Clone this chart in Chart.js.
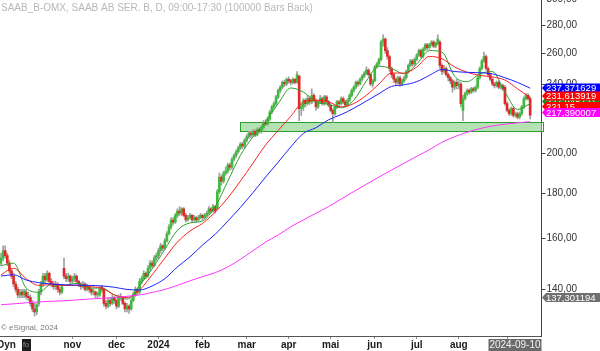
<!DOCTYPE html>
<html>
<head>
<meta charset="utf-8">
<script src="https://cdn.jsdelivr.net/npm/chart.js@4.4.1/dist/chart.umd.min.js"></script>
<style>
  html, body { margin: 0; padding: 0; background: #fff; }
  canvas { display: block; }
</style>
</head>
<body>
<canvas id="saabChart" width="600" height="351"></canvas>
<script>
// daily candles, one per trading day (index 0 = mid Oct 2023, last = 2024-09-10)
const opens = [
  150,152,155,153,150,147,145,142,140,138,
  139,138,139,137.5,137,135,133,132,135,139,
  142,145,143.5,146,143,142,141,142,140,139,
  148,145,144,145,143,144,145,143,142,141,
  142,140,141,140,139,139,138,138,141,140,
  135,134,136,135,137,136,134,137,137,135,
  133,134,133,136,138,140,139,143,144,146,
  145,148,150,149,152,153,155,157,156,159,
  162,165,168,167,170,172,171,173,170,168,
  169,170,168,169,168,169,170,169,170,171,
  173,172,174,173,181,188,186,190,191,194,
  193,197,199,201,203,205,204,207,209,211,
  210,212,210,213,212,214,217,216,219,223,
  226,228,232,236,238,241,240,243,242,241,
  243,241,245,225,226,230,228,231,229,233,
  230,226,229,231,228,232,229,227,224,222,
  226,229,228,231,229,227,230,233,236,238,
  241,240,243,245,247,249,246,240,242,251,
  253,256,268,270,262,258,250,246,243,241,
  244,240,242,244,248,252,255,253,256,259,
  262,258,263,266,264,266,268,265,267,268,
  252,248,250,246,244,242,238,241,239,240,
  224,231,234,236,235,237,236,238,244,250,
  255,258,250,246,243,240,239,241,238,239,
  238,228,224,222,225,221,222,220,222,226,
  231,233,231
];
const highs = [
  154,157,157,154,151,148,146,143,141,140,
  140,140,140,139,138,136,135,135,140,143,
  146,146,147,146.5,144,143,143,142.5,141,142,
  152,146,146,145.5,145,146,145.5,143.5,142.5,143,
  142.5,142,141.5,140.5,140,139.5,139,141,141.5,140.5,
  136,137,137,138,137.5,136.5,138,138.5,137.5,135.5,
  135,134.5,137,139,141,140.5,144,145,147,146.5,
  149,151,151,153,154,156,158,157.5,160,163,
  166,169,169,171,173,174,173.5,173.5,171,170,
  171,170.5,170,169.5,170,171,170.5,171,172,174,
  173.5,175,174.5,182,190,189,191,193,195,195,
  198,200,202,204,206,206,208,210,212,212,
  213,213,214,214,215,218,218.5,220,224,227,
  229,233,237,239,242,242.5,244,244.5,243,244,
  243.5,248,245.5,228,231,231,233,232,237,234,
  231,230,233,232,233,233,230,228,225,227,
  230,230,232,232,230,231,234,237,239,242,
  242,244,246,248,251,250,247,243,252,254,
  257,269,273,271,264,259,251,247,244,245,
  245,243,245,249,253,256,256,257,260,263,
  263,264,267,267,267,269,269,268,273,269,
  253,252,251,247,245,243,242,243,242,241,
  233,235,237,237,238,238,239,245,251,256,
  261,259,251,247,244,241,242,242,240,240,
  239,229,225,226,226,223,223,223,227,232,
  234,234,232
];
const lows = [
  149,151,152,149,146,144,141,139,137,137,
  137,137,136.5,136,134,132,130.5,131,134,138,
  141,142.5,143,142,141,140,140,139,138,138.5,
  144,143,143,142,142.5,143,142,141,140,140.5,
  139.5,139.5,139,138,138,137,137,137.5,139,134,
  133,133.5,134,134.5,135,133,133.5,136,134.5,132,
  132,131.5,132.5,135.5,137.5,138,138.5,142,143.5,144,
  144.5,147,148,148.5,151,152,154,155,155.5,158.5,
  161.5,164,166,166.5,169,170,170,169.5,167,167.5,
  168.5,167,167.5,167,167.5,168.5,168,168.5,169.5,170.5,
  171,171.5,171,172.5,180,184,185,189,190,191.5,
  192,196,198,200,202,202.5,203,206,208,208.5,
  209,209,209.5,211,211,213,215,215.5,218,222,
  225,227,231,234.5,237,238.5,239,240.5,239.5,240,
  240,240.5,218,221,224,226,227,227.5,228,229,
  224,225,228,227,227,228,226,223,217,221,
  225,226.5,227,228,226,226.5,229,232,235,237,
  238.5,239.5,242,244,246,245,239,238,241.5,250,
  252,255,265,260,256,248,244,241,239,240,
  238.5,239,241,243,247,251,251.5,252,255,258,
  257,257,262,262.5,263,265,264,264,266,250,
  246,247,245,242,240,235,236.5,237,237,226,
  218,230,233,233.5,234,235,235,237,243,249,
  254,249,245,242,239,237.5,238,237,237,236,
  227,223,221,221,220,220,219,219,221,225,
  230,230,219
];
const closes = [
  152,155,153,150,147,145,142,140,138,139,
  138,139.5,137.5,137,135,133,132,134.5,139,142,
  145,143.5,146,143,142,141,142,140,139,141,
  145,144,145,143,144,145,143,142,141,142,
  140,141,140,139,139,138,138,140,140,135,
  134,136,135,137,136,134,137,137.5,135,133,
  134,133,136,138,140,139,143,144,146,145,
  148,150,149,152,153,155,157,156,159,162,
  165,168,167,170,172,171,173,170,168,169,
  170,168,169,168,169,170,169,170,171,173,
  172,174,172,181,188,186,190,191,194,193,
  197,199,201,203,205,204,207,209,211,210,
  212,210,213,212,214,217,216,219,223,226,
  228,232,236,238,241,240,243,242,241,243,
  241,246,225,226,230,228,231,229,233,230,
  226,229,231,228,232,229,227,224,222,226,
  229,228,231,229,227,230,233,236,238,241,
  240,243,245,247,249,246,240,242,251,253,
  256,268,270,262,258,250,246,243,241,244,
  240,242,244,248,252,255,253,256,259,262,
  258,263,266,264,266,268,265,267,270,252,
  248,250,246,244,242,238,241,239,240,228,
  231,234,236,235,237,236,238,244,250,255,
  258,250,246,243,240,239,241,238,239,237,
  228,224,222,225,221,222,220,222,226,231,
  233,231,221.15
];

// moving averages every 6th bar
const maDays = [0,6,12,18,24,30,36,42,48,54,60,66,72,78,84,90,96,102,108,114,120,126,132,138,144,150,156,162,168,174,180,186,192,198,204,210,216,222,228,234,240,246,252];
const ma10 = [149.0,150.0,140.5,139.0,141.8,141.5,142.3,140.5,140.5,138.0,136.5,141.5,147.8,155.5,163.5,166.7,167.6,174.0,186.0,199.0,209.0,217.5,228.0,237.5,235.0,229.0,227.5,225.5,230.0,242.0,251.5,250.0,246.5,253.0,262.0,261.0,245.0,241.5,246.5,248.0,235.0,224.5,227.948721];
const ma20 = [145.5,148.0,144.0,141.5,141.8,141.5,141.5,141.0,140.5,138.0,137.0,139.8,145.5,152.0,158.5,163.2,166.5,171.5,178.0,186.0,195.0,204.5,212.5,220.5,229.0,230.0,229.0,226.0,228.0,233.0,240.0,247.0,247.0,251.0,258.0,256.5,251.0,247.5,245.5,244.5,242.5,237.0,231.613919];
const ma50 = [145.0,145.5,143.5,142.5,142.0,141.7,141.6,141.5,141.3,140.8,140.0,139.8,141.3,144.0,148.5,152.5,157.3,161.8,167.5,173.6,180.5,188.0,195.5,203.5,210.8,214.0,218.5,221.5,225.2,229.5,234.0,238.5,239.5,241.5,245.5,249.3,248.0,247.5,247.2,246.5,244.0,241.0,237.371629];
const ma200 = [134.5,134.8,135.2,135.5,135.7,135.9,136.2,136.5,136.8,137.0,137.5,138.0,138.9,140.0,141.5,143.2,144.8,146.3,148.5,151.5,155.0,158.5,161.5,165.0,168.0,171.0,174.0,177.5,181.0,184.5,188.0,191.5,195.0,198.5,202.0,206.0,209.0,211.5,213.5,215.0,216.0,216.8,217.390007];

// axes
const monthIdx = [34, 55, 75, 96, 117, 137, 157, 178, 198, 218, 241];
const monthLabels = ['nov', 'dec', '2024', 'feb', 'mar', 'apr', 'mai', 'jun', 'jul', 'aug', 'sep'];
const yTicks = [140, 160, 180, 200, 240, 260, 280, 300];

// support zone and misc
const zoneStart = 114;
const zoneLow = 212.3;
const zoneHigh = 217.4;
const lowMark = 137.301194;
const lastDate = '2024-09-10';
const title = 'SAAB_B-OMX, SAAB AB SER. B, D, 09:00-17:30 (100000 Bars Back)';

const FONT = "'Liberation Sans', Arial, sans-serif";

const wickData = lows.map((l, i) => ({ x: i, y: [l, highs[i]] }));
const bodyData = opens.map((o, i) => ({ x: i, y: [o, closes[i]] }));
const bodyColors = opens.map((o, i) => closes[i] >= o ? '#3cbc3c' : '#e02828');

function maLine(values, color, order) {
    return {
        type: 'line',
        data: maDays.map((d, k) => ({ x: d, y: values[k] })),
        borderColor: color,
        borderWidth: 1,
        pointRadius: 0,
        cubicInterpolationMode: 'monotone',
        order: order
    };
}

function fmt(v, d) {
    return v.toFixed(d).replace('.', ',');
}

function drawTag(ctx, tipX, yc, text, color) {
    const h = 9;
    ctx.fillStyle = color;
    ctx.beginPath();
    ctx.moveTo(tipX, yc);
    ctx.lineTo(tipX + 4, yc - h / 2);
    ctx.lineTo(600, yc - h / 2);
    ctx.lineTo(600, yc + h / 2);
    ctx.lineTo(tipX + 4, yc + h / 2);
    ctx.closePath();
    ctx.fill();
    ctx.fillStyle = '#ffffff';
    ctx.fillText(text, tipX + 4, yc + 0.5);
}

function noPad(s) {
    s.paddingTop = 0;
    s.paddingBottom = 0;
    s.paddingLeft = 0;
    s.paddingRight = 0;
}

const overlay = {
    id: 'overlay',
    beforeDatasetsDraw(chart) {
        const { ctx, chartArea: a, scales: { x, y } } = chart;
        const left = Math.round(x.getPixelForValue(zoneStart)) + 0.5;
        const top = Math.round(y.getPixelForValue(zoneHigh)) + 0.5;
        const bottom = Math.round(y.getPixelForValue(zoneLow)) + 0.5;
        ctx.save();
        ctx.fillStyle = '#b5e2b3';
        ctx.fillRect(left, top, a.right - left, bottom - top);
        ctx.strokeStyle = '#2e9e2e';
        ctx.lineWidth = 1;
        ctx.strokeRect(left, top, a.right - left + 2, bottom - top);
        ctx.restore();
    },
    afterDraw(chart) {
        const { ctx, chartArea: a } = chart;
        ctx.save();
        ctx.textBaseline = 'middle';

        // header + copyright
        ctx.font = '10px ' + FONT;
        ctx.fillStyle = '#b8b8b8';
        ctx.textAlign = 'left';
        ctx.fillText(title, 1, 8);
        ctx.font = '8px ' + FONT;
        ctx.fillStyle = '#7a7a7a';
        ctx.fillText('\u00a9 eSignal, 2024', 1, 328);

        // last value tags on the price axis
        ctx.font = '9.5px ' + FONT;
        const tip = a.right + 0.5;
        drawTag(ctx, tip, 88, fmt(ma50[ma50.length - 1], 6), '#0000ff');
        drawTag(ctx, tip, 101.5, fmt(ma10[ma10.length - 1], 6), '#1a8f1a');
        drawTag(ctx, tip, 96, fmt(ma20[ma20.length - 1], 6), '#ff0000');
        drawTag(ctx, tip, 106.5, fmt(closes[closes.length - 1], 2), '#ff0000');
        drawTag(ctx, tip, 112.5, fmt(ma200[ma200.length - 1], 6), '#ff00ff');
        drawTag(ctx, tip, 297.5, fmt(lowMark, 6), '#707070');

        // current date box on the time axis
        ctx.font = '10px ' + FONT;
        ctx.fillStyle = '#6a6a6a';
        ctx.fillRect(a.right - 53, 339, 53, 12);
        ctx.fillStyle = '#f2f2f2';
        ctx.textAlign = 'center';
        ctx.fillText(lastDate, a.right - 26.5, 345.5);

        // bottom-left buttons
        ctx.textAlign = 'left';
        ctx.font = 'bold 10px ' + FONT;
        ctx.fillStyle = '#222';
        ctx.fillText('Dyn', -3, 345.5);
        ctx.fillStyle = '#1e1e1e';
        ctx.fillRect(22, 339, 9, 12);
        ctx.font = '7px ' + FONT;
        ctx.fillStyle = '#9a9a9a';
        ctx.fillText('fo', 23, 345.5);
        ctx.restore();
    }
};

new Chart(document.getElementById('saabChart'), {
    type: 'bar',
    data: {
        datasets: [
            maLine(ma200, '#ff33ff', 0),
            maLine(ma50, '#1f1fff', 1),
            maLine(ma20, '#ff2020', 2),
            maLine(ma10, '#2ca02c', 3),
            {
                type: 'bar',
                data: bodyData,
                backgroundColor: bodyColors,
                barThickness: 2,
                minBarLength: 1,
                grouped: false,
                order: 4
            },
            {
                type: 'bar',
                data: wickData,
                backgroundColor: '#a0a0a0',
                barThickness: 1,
                grouped: false,
                order: 5
            }
        ]
    },
    options: {
        responsive: false,
        animation: false,
        devicePixelRatio: 1,
        layout: { padding: 0 },
        plugins: {
            legend: { display: false },
            tooltip: { enabled: false }
        },
        scales: {
            x: {
                type: 'linear',
                min: -0.48,
                max: 257.4,
                offset: false,
                afterBuildTicks: function (s) {
                    s.ticks = monthIdx.map(v => ({ value: v }));
                },
                afterFit: function (s) { s.height = 15; noPad(s); },
                ticks: {
                    autoSkip: false,
                    maxRotation: 0,
                    padding: 0,
                    color: '#1a1a1a',
                    font: { family: FONT, size: 10, weight: 'bold' },
                    callback: function (value, index) { return monthLabels[index]; }
                },
                grid: { drawOnChartArea: false, offset: false, tickLength: 3, color: '#888' },
                border: { display: true, color: '#555' }
            },
            y: {
                type: 'logarithmic',
                position: 'right',
                min: 123.9,
                max: 299.2,
                afterBuildTicks: function (s) {
                    s.ticks = yTicks.map(v => ({ value: v }));
                },
                afterFit: function (s) { s.width = 58.5; noPad(s); },
                ticks: {
                    autoSkip: false,
                    padding: 1,
                    color: '#333',
                    font: { family: FONT, size: 10 },
                    callback: function (value) { return fmt(value, 2); }
                },
                grid: { drawOnChartArea: false, tickLength: 4, color: '#444' },
                border: { display: true, color: '#444' }
            }
        }
    },
    plugins: [overlay]
});
</script>
</body>
</html>
